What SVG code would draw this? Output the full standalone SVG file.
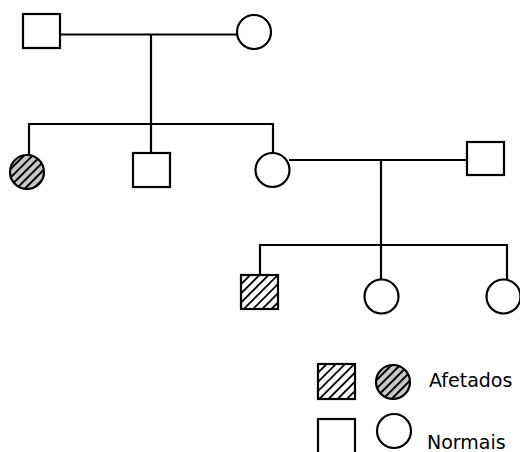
<svg xmlns="http://www.w3.org/2000/svg" width="520" height="452" viewBox="0 0 520 452">
<style>
.s{fill:#fff;stroke:#000;stroke-width:2.2}
.hc{fill:url(#hatchC);stroke:#000;stroke-width:2.2}
.hs{fill:url(#hatchS);stroke:#000;stroke-width:2.2}
.ln{stroke:#000;stroke-width:2.2;fill:none}
.t{font-family:"DejaVu Sans",sans-serif;font-size:19px;fill:#000}
</style>
<defs>
<pattern id="hatchC" patternUnits="userSpaceOnUse" width="6" height="6" patternTransform="rotate(45)">
<rect width="6" height="6" fill="#c8c8c8"/>
<rect x="0" y="0" width="2" height="6" fill="#000"/>
</pattern>
<pattern id="hatchS" patternUnits="userSpaceOnUse" width="6.5" height="6.5" patternTransform="rotate(45)">
<rect width="6.5" height="6.5" fill="#fff"/>
<rect x="0" y="0" width="1.8" height="6.5" fill="#000"/>
</pattern>
</defs>
<g id="connectors">
<line class="ln" x1="60" y1="34.5" x2="237" y2="34.5"/>
<line class="ln" x1="151" y1="34.5" x2="151" y2="124"/>
<line class="ln" x1="28" y1="124" x2="274" y2="124"/>
<line class="ln" x1="29" y1="124" x2="29" y2="155"/>
<line class="ln" x1="151" y1="124" x2="151" y2="153"/>
<line class="ln" x1="273" y1="124" x2="273" y2="153"/>
<line class="ln" x1="289" y1="160" x2="467" y2="160"/>
<line class="ln" x1="381" y1="160" x2="381" y2="245"/>
<line class="ln" x1="259" y1="245" x2="508" y2="245"/>
<line class="ln" x1="260" y1="245" x2="260" y2="275"/>
<line class="ln" x1="381" y1="245" x2="381" y2="279"/>
<line class="ln" x1="507" y1="245" x2="507" y2="280"/>
</g>
<g id="I1"><rect class="s" x="23" y="14" width="37" height="34"/></g>
<g id="I2"><circle class="s" cx="254" cy="32" r="17"/></g>
<g id="II1"><circle class="hc" cx="27" cy="172" r="17"/></g>
<g id="II2"><rect class="s" x="133" y="153" width="37" height="34"/></g>
<g id="II3"><circle class="s" cx="272.5" cy="170" r="17"/></g>
<g id="II4"><rect class="s" x="467" y="142" width="37" height="33"/></g>
<g id="III1"><rect class="hs" x="241" y="275" width="37" height="34"/></g>
<g id="III2"><circle class="s" cx="381.5" cy="296.5" r="17"/></g>
<g id="III3"><circle class="s" cx="503.5" cy="296.5" r="17"/></g>
<g id="legend">
<rect class="hs" x="318" y="364" width="37" height="35"/>
<circle class="hc" cx="393" cy="382" r="17"/>
<text class="t" x="429" y="387">Afetados</text>
<rect class="s" x="318" y="419" width="37" height="40"/>
<circle class="s" cx="394" cy="431" r="17"/>
<text class="t" x="427" y="449">Normais</text>
</g>
</svg>
